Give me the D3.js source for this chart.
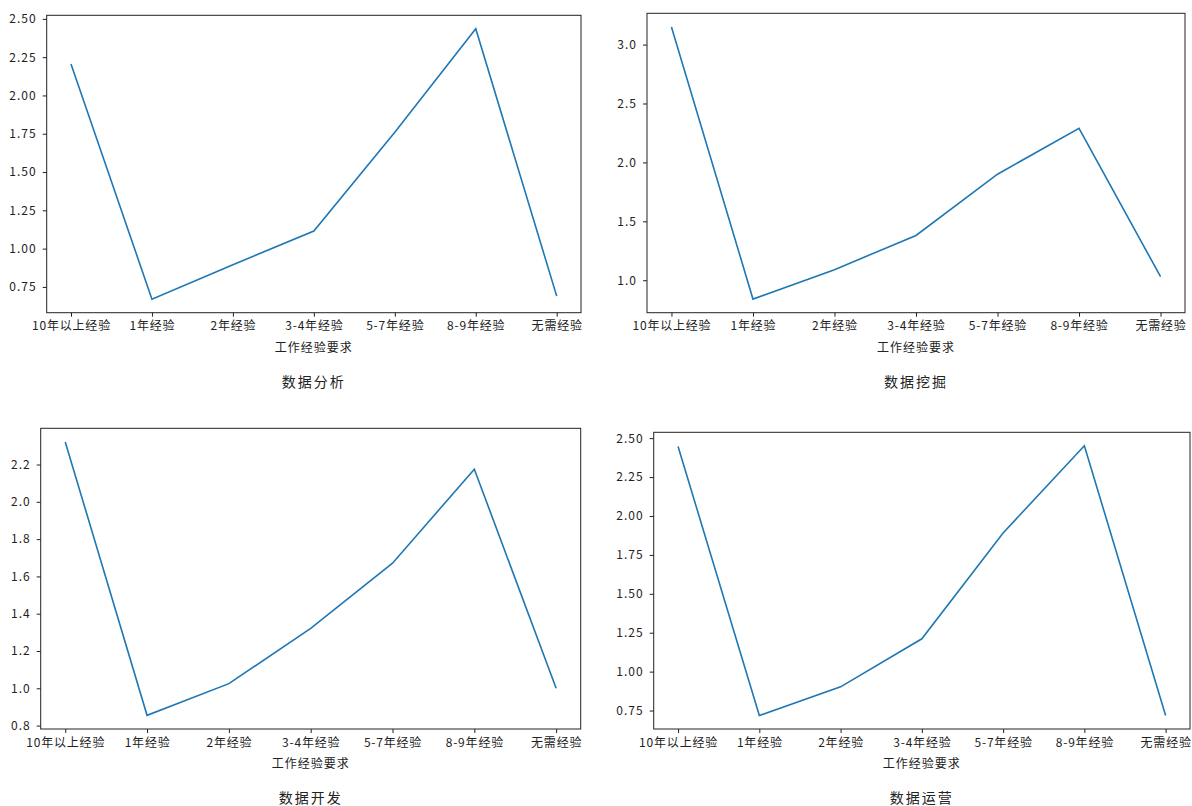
<!DOCTYPE html>
<html>
<head>
<meta charset="utf-8">
<script src="https://cdn.jsdelivr.net/npm/d3@7"></script>
<style>
  body { margin: 0; background: #fff; }
  text { font-family: "Noto Sans CJK SC", "DejaVu Sans", sans-serif; fill: #222; }
</style>
</head>
<body>
<script>
const W = 1192;
const H = 806;

const categories = ["10年以上经验", "1年经验", "2年经验", "3-4年经验", "5-7年经验", "8-9年经验", "无需经验"];
const xLabel = "工作经验要求";
const titles = ["数据分析", "数据挖掘", "数据开发", "数据运营"];

const analysisValues = [2.205, 0.67, 0.895, 1.115, 1.76, 2.435, 0.69];
const miningValues = [3.15, 0.84, 1.09, 1.38, 1.90, 2.29, 1.03];
const developValues = [2.321, 0.855, 1.025, 1.321, 1.671, 2.175, 1.0];
const operateValues = [2.446, 0.718, 0.902, 1.211, 1.891, 2.451, 0.718];

const analysisTicks = [0.75, 1.00, 1.25, 1.50, 1.75, 2.00, 2.25, 2.50];
const miningTicks = [1.0, 1.5, 2.0, 2.5, 3.0];
const developTicks = [0.8, 1.0, 1.2, 1.4, 1.6, 1.8, 2.0, 2.2];
const operateTicks = [0.75, 1.00, 1.25, 1.50, 1.75, 2.00, 2.25, 2.50];

// axes boxes
const panels = [
  { values: analysisValues, ticks: analysisTicks, fmt: ".2f", left: 46.7, top: 15.3, right: 581, bottom: 312.7 },
  { values: miningValues, ticks: miningTicks, fmt: ".1f", left: 647, top: 13.3, right: 1185, bottom: 312.7 },
  { values: developValues, ticks: developTicks, fmt: ".1f", left: 40.7, top: 428.3, right: 580.7, bottom: 729 },
  { values: operateValues, ticks: operateTicks, fmt: ".2f", left: 653.7, top: 432.3, right: 1190, bottom: 729 }
];

const svg = d3.select("body").append("svg").attr("width", W).attr("height", H);

panels.forEach((p, i) => {
  const g = svg.append("g");
  const x = d3.scalePoint().domain(categories).range([p.left, p.right]).padding(0.3);
  const [lo, hi] = d3.extent(p.values);
  const m = (hi - lo) * 0.05;
  const y = d3.scaleLinear().domain([lo - m, hi + m]).range([p.bottom, p.top]);

  const xa = g.append("g").attr("transform", `translate(0,${p.bottom})`)
    .call(d3.axisBottom(x).tickSize(4).tickPadding(5));
  xa.select(".domain").remove();
  xa.selectAll("line").attr("stroke", "#222").attr("stroke-width", 1);
  xa.selectAll("text").attr("font-size", 12).attr("letter-spacing", 0.8).attr("fill", "#222");

  const ya = g.append("g").attr("transform", `translate(${p.left},0)`)
    .call(d3.axisLeft(y).tickValues(p.ticks).tickFormat(d3.format(p.fmt)).tickSize(4).tickPadding(6));
  ya.select(".domain").remove();
  ya.selectAll("line").attr("stroke", "#222").attr("stroke-width", 1);
  ya.selectAll("text").attr("font-size", 12).attr("letter-spacing", 1).attr("fill", "#222");

  g.append("path").datum(p.values)
    .attr("fill", "none")
    .attr("stroke", "#1f77b4")
    .attr("stroke-width", 1.6)
    .attr("d", d3.line().x((d, j) => x(categories[j])).y(d => y(d)));

  g.append("rect")
    .attr("x", p.left).attr("y", p.top)
    .attr("width", p.right - p.left).attr("height", p.bottom - p.top)
    .attr("fill", "none").attr("stroke", "#222").attr("stroke-width", 1);

  const cx = (p.left + p.right) / 2;
  g.append("text").attr("x", cx).attr("y", p.bottom + 39)
    .attr("text-anchor", "middle").attr("font-size", 12).attr("letter-spacing", 1)
    .text(xLabel);
  g.append("text").attr("x", cx).attr("y", p.bottom + 74)
    .attr("text-anchor", "middle").attr("font-size", 14).attr("letter-spacing", 2)
    .text(titles[i]);
});
</script>
</body>
</html>
